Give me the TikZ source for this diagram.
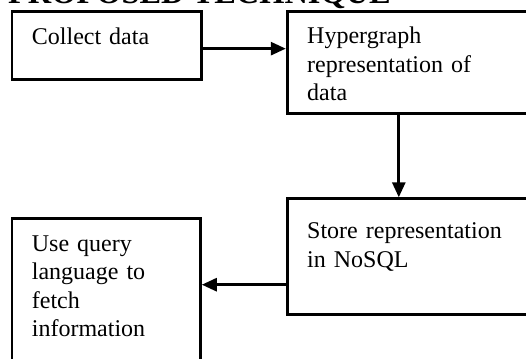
\documentclass[tikz,border=0pt]{standalone}
\usepackage{fontspec}
\setmainfont{Liberation Serif}
\usepackage{tikz}
\usetikzlibrary{positioning, arrows.meta, calc}

\begin{document}
\begin{tikzpicture}[
    x=1pt, y=1pt,
    flowbox/.style={
        rectangle,
        draw=black,
        line width=2.8pt,
        align=left,
        anchor=north west,
        inner xsep=20pt,
        inner ysep=0pt,
        font=\fontsize{24}{28.5}\selectfont
    },
    flowarrow/.style={-{Triangle[length=15pt, width=13pt]}, line width=2.8pt, draw=black}
]

\useasboundingbox (0,0) rectangle (526,-358);
\clip (0,0) rectangle (526,-358);

\node[anchor=base west, inner sep=0pt, font=\bfseries\fontsize{32.4}{36}\selectfont] (title) at (8,-3.5) {PROPOSED TECHNIQUE};

\node[flowbox, text width=149.5pt, text height=32.5pt, text depth=35pt] (collect) at (10.5,-10.5) {
    Collect data
};

\node[flowbox, text width=220pt, text height=32pt, text depth=70pt,
      right=83pt of collect.north east, anchor=north west] (hyper) {
    Hypergraph\\
    representation of\\
    data
};

\node[flowbox, text width=220pt, text height=40pt, text depth=76pt,
      below=82pt of hyper.south west, anchor=north west] (store) {
    Store representation\\
    in NoSQL
};

\node[flowbox, text width=148.5pt, text height=33pt, text depth=127pt,
      below=136pt of collect.south west, anchor=north west] (query) {
    Use query\\
    language to\\
    fetch\\
    information
};

\draw[flowarrow] ([yshift=-3pt]collect.east) -- ([yshift=-3pt]collect.east -| hyper.west);
\draw[flowarrow] ([xshift=113pt]hyper.south west) -- ([xshift=113pt]hyper.south west |- store.north);
\draw[flowarrow] ([yshift=-28pt]store.west) -- ([yshift=-28pt]store.west -| query.east);

\end{tikzpicture}
\end{document}
